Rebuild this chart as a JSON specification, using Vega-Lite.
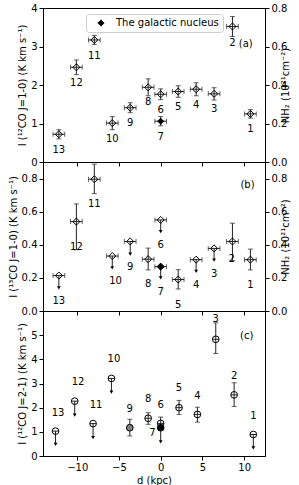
{
"$schema": "https://vega.github.io/schema/vega-lite/v6.json",
"padding": {"left": 7, "top": 2, "right": 0, "bottom": 2},
"bounds": "flush",
"spacing": 0,
"config": {
  "font": "DejaVu Sans",
  "view": {"stroke": "black", "strokeWidth": 1},
  "axis": {"labelFontSize": 10, "titleFontSize": 10, "titleFontWeight": "normal", "labelColor": "black", "titleColor": "black", "tickColor": "black", "domainColor": "black", "grid": false, "tickSize": 4, "labelPadding": 2, "titlePadding": 3, "labelOverlap": false, "labelFlush": false, "tickCount": 12},
  "text": {"font": "DejaVu Sans", "fontSize": 10, "color": "black"}
},
"datasets": {
  "a": [
    {"id":"13","d":-12.2,"dx":0.7,"v":0.72,"lo":0.60,"hi":0.84,"lx":-12.2,"ly":0.32,"kind":"cloud"},
    {"id":"12","d":-10.1,"dx":0.7,"v":2.46,"lo":2.27,"hi":2.65,"lx":-10.1,"ly":2.05,"kind":"cloud"},
    {"id":"11","d":-7.95,"dx":0.7,"v":3.17,"lo":3.05,"hi":3.29,"lx":-7.95,"ly":2.76,"kind":"cloud"},
    {"id":"10","d":-5.8,"dx":0.7,"v":1.01,"lo":0.84,"hi":1.18,"lx":-5.8,"ly":0.61,"kind":"cloud"},
    {"id":"9","d":-3.65,"dx":0.7,"v":1.41,"lo":1.28,"hi":1.54,"lx":-3.65,"ly":1.02,"kind":"cloud"},
    {"id":"8","d":-1.5,"dx":0.7,"v":1.94,"lo":1.72,"hi":2.16,"lx":-1.5,"ly":1.55,"kind":"cloud"},
    {"id":"7","d":0,"dx":0.7,"v":1.06,"lo":0.94,"hi":1.18,"lx":0,"ly":0.66,"kind":"nucleus"},
    {"id":"6","d":0,"dx":0.7,"v":1.76,"lo":1.62,"hi":1.90,"lx":0,"ly":1.36,"kind":"cloud"},
    {"id":"5","d":2.1,"dx":0.7,"v":1.83,"lo":1.68,"hi":1.98,"lx":2.1,"ly":1.43,"kind":"cloud"},
    {"id":"4","d":4.25,"dx":0.7,"v":1.89,"lo":1.72,"hi":2.06,"lx":4.25,"ly":1.49,"kind":"cloud"},
    {"id":"3","d":6.4,"dx":0.7,"v":1.77,"lo":1.61,"hi":1.93,"lx":6.4,"ly":1.37,"kind":"cloud"},
    {"id":"2","d":8.6,"dx":0.7,"v":3.52,"lo":3.26,"hi":3.78,"lx":8.6,"ly":3.1,"kind":"cloud"},
    {"id":"1","d":10.75,"dx":0.7,"v":1.25,"lo":1.14,"hi":1.36,"lx":10.75,"ly":0.85,"kind":"cloud"}
  ],
  "b": [
    {"id":"13","d":-12.2,"dx":0.7,"v":0.214,"lim":0.14,"lx":-12.2,"ly":0.062,"kind":"cloud"},
    {"id":"12","d":-10.1,"dx":0.7,"v":0.54,"lo":0.37,"hi":0.647,"lx":-10.1,"ly":0.385,"kind":"cloud"},
    {"id":"11","d":-7.95,"dx":0.7,"v":0.796,"lo":0.709,"hi":0.887,"lx":-7.95,"ly":0.644,"kind":"cloud"},
    {"id":"10","d":-5.8,"dx":0.7,"v":0.332,"lim":0.26,"lx":-5.4,"ly":0.18,"kind":"cloud"},
    {"id":"9","d":-3.65,"dx":0.7,"v":0.42,"lim":0.343,"lx":-3.65,"ly":0.265,"kind":"cloud"},
    {"id":"8","d":-1.5,"dx":0.7,"v":0.313,"lo":0.248,"hi":0.38,"lx":-1.5,"ly":0.165,"kind":"cloud"},
    {"id":"7","d":0,"dx":0.7,"v":0.268,"lim":0.2,"lx":0,"ly":0.115,"kind":"nucleus"},
    {"id":"6","d":0,"dx":0.7,"v":0.55,"lim":0.48,"lx":0,"ly":0.396,"kind":"cloud"},
    {"id":"5","d":2.1,"dx":0.7,"v":0.19,"lo":0.133,"hi":0.25,"lx":2.1,"ly":0.035,"kind":"cloud"},
    {"id":"4","d":4.25,"dx":0.7,"v":0.31,"lim":0.24,"lx":4.25,"ly":0.156,"kind":"cloud"},
    {"id":"3","d":6.4,"dx":0.7,"v":0.378,"lim":0.307,"lx":6.4,"ly":0.222,"kind":"cloud"},
    {"id":"2","d":8.6,"dx":0.7,"v":0.42,"lo":0.305,"hi":0.53,"lx":8.5,"ly":0.313,"kind":"cloud"},
    {"id":"1","d":10.75,"dx":0.7,"v":0.31,"lo":0.248,"hi":0.374,"lx":10.75,"ly":0.16,"kind":"cloud"}
  ],
  "c": [
    {"id":"13","d":-12.6,"dx":0.4,"v":1.03,"lim":0.48,"lx":-12.3,"ly":1.79,"kind":"cloud"},
    {"id":"12","d":-10.3,"dx":0.4,"v":2.27,"lim":1.69,"lx":-9.9,"ly":3.06,"kind":"cloud"},
    {"id":"11","d":-8.1,"dx":0.4,"v":1.34,"lim":0.76,"lx":-7.75,"ly":2.13,"kind":"cloud"},
    {"id":"10","d":-5.9,"dx":0.4,"v":3.21,"lim":2.64,"lx":-5.6,"ly":4.0,"kind":"cloud"},
    {"id":"9","d":-3.7,"dx":0.4,"v":1.17,"lo":0.83,"hi":1.52,"lx":-3.7,"ly":1.93,"kind":"other"},
    {"id":"8","d":-1.5,"dx":0.4,"v":1.56,"lo":1.31,"hi":1.79,"lx":-1.5,"ly":2.34,"kind":"cloud"},
    {"id":"7","d":0,"dx":0.4,"v":1.17,"lim":0.58,"lx":-1.0,"ly":0.96,"kind":"nucleus"},
    {"id":"6","d":0,"dx":0.4,"v":1.35,"lo":1.1,"hi":1.61,"lx":0,"ly":2.13,"kind":"cloud"},
    {"id":"5","d":2.2,"dx":0.4,"v":2.0,"lo":1.72,"hi":2.3,"lx":2.2,"ly":2.8,"kind":"cloud"},
    {"id":"4","d":4.4,"dx":0.4,"v":1.72,"lo":1.4,"hi":2.02,"lx":4.4,"ly":2.5,"kind":"cloud"},
    {"id":"3","d":6.6,"dx":0.4,"v":4.83,"lo":4.24,"hi":5.51,"lx":6.6,"ly":5.65,"kind":"cloud"},
    {"id":"2","d":8.8,"dx":0.4,"v":2.53,"lo":2.05,"hi":3.03,"lx":8.8,"ly":3.33,"kind":"cloud"},
    {"id":"1","d":11.1,"dx":0.4,"v":0.89,"lim":0.34,"lx":11.1,"ly":1.65,"kind":"cloud"}
  ]
},
"vconcat": [
  {
    "width": 222, "height": 154,
    "data": {"name": "a"},
    "layer": [
      {"layer": [
        {"mark": {"type": "errorbar", "color": "#222", "ticks": {"size": 5}},
         "encoding": {
           "x": {"field": "d", "type": "quantitative", "scale": {"domain": [-14.1, 12.5], "nice": false, "zero": false}, "axis": {"values": [-10,-5,0,5,10], "tickCount": 12, "labels": false, "title": null}},
           "xError": {"field": "dx"},
           "y": {"field": "v", "type": "quantitative", "title": "I (¹²CO J=1-0) (K km s⁻¹)", "scale": {"domain": [0, 4], "nice": false}, "axis": {"values": [0,1,2,3,4], "tickCount": 12, "format": "d", "labelOverlap": false}}
         }},
        {"mark": {"type": "errorbar", "color": "#222", "ticks": {"size": 5}},
         "encoding": {
           "x": {"field": "d", "type": "quantitative"},
           "y": {"field": "lo", "type": "quantitative", "title": "I (¹²CO J=1-0) (K km s⁻¹)"},
           "y2": {"field": "hi"}
         }},
        {"transform": [{"filter": "datum.kind !== 'nucleus'"}],
         "mark": {"type": "point", "shape": "diamond", "filled": false, "stroke": "black", "strokeWidth": 1, "size": 50, "opacity": 1},
         "encoding": {"x": {"field": "d", "type": "quantitative"}, "y": {"field": "v", "type": "quantitative"}}},
        {"transform": [{"filter": "datum.kind === 'nucleus'"}],
         "mark": {"type": "point", "shape": "diamond", "filled": true, "size": 50, "opacity": 1},
         "encoding": {"x": {"field": "d", "type": "quantitative"}, "y": {"field": "v", "type": "quantitative"},
           "fill": {"datum": "The galactic nucleus", "type": "nominal", "scale": {"range": ["black"]},
             "legend": {"orient": "none", "legendX": 43, "legendY": 6, "title": null, "symbolType": "diamond", "symbolSize": 50, "labelFontSize": 10, "labelColor": "black", "strokeColor": "#cccccc", "fillColor": "white", "padding": 4, "symbolOffset": 6, "labelOffset": 10, "cornerRadius": 3}}}},
        {"mark": {"type": "text", "baseline": "middle", "align": "center"},
         "encoding": {"x": {"field": "lx", "type": "quantitative"}, "y": {"field": "ly", "type": "quantitative"}, "text": {"field": "id"}}},
        {"data": {"values": [{"t": "(a)", "x": 10.2, "y": 3.07}]},
         "mark": {"type": "text", "fontSize": 10},
         "encoding": {"x": {"field": "x", "type": "quantitative"}, "y": {"field": "y", "type": "quantitative"}, "text": {"field": "t"}}}
      ]},
      {"mark": {"type": "rule", "opacity": 0},
       "encoding": {"y": {"datum": 0, "type": "quantitative", "scale": {"domain": [0, 0.8], "nice": false}, "axis": {"orient": "right", "values": [0,0.2,0.4,0.6,0.8], "tickCount": 12, "format": ".1f", "labelOverlap": false, "title": "NH₂ (10²¹cm⁻²)", "titleAngle": 270, "titlePadding": 4}}}}
    ],
    "resolve": {"scale": {"y": "independent"}}
  },
  {
    "width": 222, "height": 149,
    "data": {"name": "b"},
    "layer": [
      {"layer": [
        {"mark": {"type": "errorbar", "color": "#222", "ticks": {"size": 5}},
         "encoding": {
           "x": {"field": "d", "type": "quantitative", "scale": {"domain": [-14.1, 12.5], "nice": false, "zero": false}, "axis": {"values": [-10,-5,0,5,10], "tickCount": 12, "labels": false, "title": null}},
           "xError": {"field": "dx"},
           "y": {"field": "v", "type": "quantitative", "title": "I (¹³CO J=1-0) (K km s⁻¹)", "scale": {"domain": [0, 0.9], "nice": false}, "axis": {"values": [0,0.2,0.4,0.6,0.8], "tickCount": 12, "format": ".1f", "labelOverlap": false}}
         }},
        {"transform": [{"filter": "isValid(datum.lo)"}],
         "mark": {"type": "errorbar", "color": "#222", "ticks": {"size": 5}},
         "encoding": {
           "x": {"field": "d", "type": "quantitative"},
           "y": {"field": "lo", "type": "quantitative", "title": "I (¹³CO J=1-0) (K km s⁻¹)"},
           "y2": {"field": "hi"}
         }},
        {"transform": [{"filter": "isValid(datum.lim)"}],
         "mark": {"type": "rule", "color": "#222", "strokeWidth": 1},
         "encoding": {"x": {"field": "d", "type": "quantitative"}, "y": {"field": "v", "type": "quantitative", "title": "I (¹³CO J=1-0) (K km s⁻¹)"}, "y2": {"field": "lim"}}},
        {"transform": [{"filter": "isValid(datum.lim)"}],
         "mark": {"type": "point", "shape": "triangle-down", "filled": true, "color": "black", "size": 14, "opacity": 1},
         "encoding": {"x": {"field": "d", "type": "quantitative"}, "y": {"field": "lim", "type": "quantitative", "title": "I (¹³CO J=1-0) (K km s⁻¹)"}}},
        {"mark": {"type": "point", "shape": "diamond", "filled": true, "stroke": "black", "strokeWidth": 1, "size": 50, "opacity": 1},
         "encoding": {"x": {"field": "d", "type": "quantitative"}, "y": {"field": "v", "type": "quantitative", "title": "I (¹³CO J=1-0) (K km s⁻¹)"},
           "fill": {"condition": {"test": "datum.kind === 'nucleus'", "value": "black"}, "value": "transparent"}}},
        {"mark": {"type": "text", "baseline": "middle", "align": "center"},
         "encoding": {"x": {"field": "lx", "type": "quantitative"}, "y": {"field": "ly", "type": "quantitative", "title": "I (¹³CO J=1-0) (K km s⁻¹)"}, "text": {"field": "id"}}},
        {"data": {"values": [{"t": "(b)", "x": 10.4, "y": 0.76}]},
         "mark": {"type": "text", "fontSize": 10},
         "encoding": {"x": {"field": "x", "type": "quantitative"}, "y": {"field": "y", "type": "quantitative", "title": "I (¹³CO J=1-0) (K km s⁻¹)"}, "text": {"field": "t"}}}
      ]},
      {"mark": {"type": "rule", "opacity": 0},
       "encoding": {"y": {"datum": 0, "type": "quantitative", "scale": {"domain": [0, 0.9], "nice": false}, "axis": {"orient": "right", "values": [0,0.2,0.4,0.6,0.8], "tickCount": 12, "format": ".1f", "labelOverlap": false, "title": "NH₂ (10²¹cm⁻²)", "titleAngle": 270, "titlePadding": 4}}}}
    ],
    "resolve": {"scale": {"y": "independent"}}
  },
  {
    "width": 222, "height": 145,
    "data": {"name": "c"},
    "layer": [
      {"transform": [{"filter": "isValid(datum.lo)"}],
       "mark": {"type": "errorbar", "color": "#222", "ticks": {"size": 5}},
       "encoding": {
         "x": {"field": "d", "type": "quantitative", "title": "d (kpc)", "scale": {"domain": [-14.1, 12.5], "nice": false, "zero": false}, "axis": {"values": [-10,-5,0,5,10], "tickCount": 12, "format": "d", "labelOverlap": false}},
         "y": {"field": "lo", "type": "quantitative", "title": "I (¹²CO J=2-1) (K km s⁻¹)", "scale": {"domain": [0, 6], "nice": false}, "axis": {"values": [0,1,2,3,4,5], "tickCount": 12, "format": "d", "labelOverlap": false}},
         "y2": {"field": "hi"}
       }},
      {"mark": {"type": "errorbar", "color": "#222", "ticks": false},
       "encoding": {"x": {"field": "d", "type": "quantitative", "title": "d (kpc)"}, "xError": {"field": "dx"}, "y": {"field": "v", "type": "quantitative", "title": "I (¹²CO J=2-1) (K km s⁻¹)"}}},
      {"transform": [{"filter": "isValid(datum.lim)"}],
       "mark": {"type": "rule", "color": "#222", "strokeWidth": 1},
       "encoding": {"x": {"field": "d", "type": "quantitative", "title": "d (kpc)"}, "y": {"field": "v", "type": "quantitative", "title": "I (¹²CO J=2-1) (K km s⁻¹)"}, "y2": {"field": "lim"}}},
      {"transform": [{"filter": "isValid(datum.lim)"}],
       "mark": {"type": "point", "shape": "triangle-down", "filled": true, "color": "black", "size": 14, "opacity": 1},
       "encoding": {"x": {"field": "d", "type": "quantitative", "title": "d (kpc)"}, "y": {"field": "lim", "type": "quantitative", "title": "I (¹²CO J=2-1) (K km s⁻¹)"}}},
      {"mark": {"type": "point", "shape": "circle", "filled": true, "stroke": "black", "strokeWidth": 1, "size": 45, "opacity": 1},
       "encoding": {"x": {"field": "d", "type": "quantitative", "title": "d (kpc)"}, "y": {"field": "v", "type": "quantitative", "title": "I (¹²CO J=2-1) (K km s⁻¹)"},
         "fill": {"condition": [{"test": "datum.kind === 'nucleus'", "value": "black"}, {"test": "datum.kind === 'other'", "value": "#808080"}], "value": "transparent"}}},
      {"mark": {"type": "text", "baseline": "middle", "align": "center"},
       "encoding": {"x": {"field": "lx", "type": "quantitative", "title": "d (kpc)"}, "y": {"field": "ly", "type": "quantitative", "title": "I (¹²CO J=2-1) (K km s⁻¹)"}, "text": {"field": "id"}}},
      {"data": {"values": [{"t": "(c)", "x": 10.3, "y": 4.96}]},
       "mark": {"type": "text", "fontSize": 10},
       "encoding": {"x": {"field": "x", "type": "quantitative", "title": "d (kpc)"}, "y": {"field": "y", "type": "quantitative", "title": "I (¹²CO J=2-1) (K km s⁻¹)"}, "text": {"field": "t"}}}
    ]
  }
]
}
